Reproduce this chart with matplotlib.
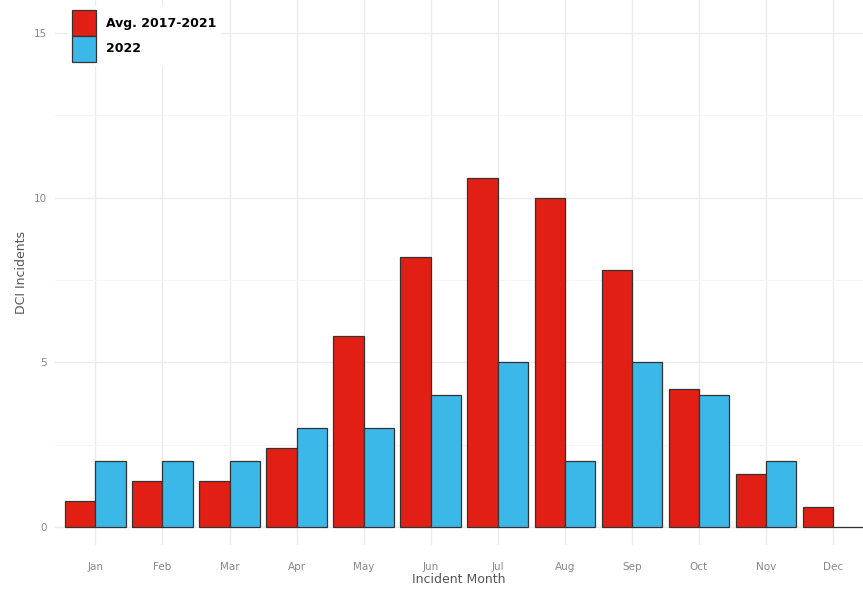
import numpy as np
import matplotlib
matplotlib.use("Agg")
import matplotlib.pyplot as plt

### Data
months = ["Jan", "Feb", "Mar", "Apr", "May", "Jun", "Jul", "Aug", "Sep", "Oct", "Nov", "Dec"]
avg_2017_2021 = [0.8, 1.4, 1.4, 2.4, 5.8, 8.2, 10.6, 10.0, 7.8, 4.2, 1.6, 0.6]
y2022 = [2, 2, 2, 3, 3, 4, 5, 2, 5, 4, 2, 0]

red = "#e21f14"
blue = "#3bb8e8"

fig = plt.figure(figsize=(8.63, 5.94), dpi=100)
ax = fig.add_axes([0.064, 0.0825, 0.936, 0.9175])

x = np.arange(len(months))
w = 0.45
ax.bar(x - w / 2, avg_2017_2021, width=w, color=red, edgecolor="#333333", linewidth=0.9,
       label="Avg. 2017-2021", zorder=3)
ax.bar(x + w / 2, y2022, width=w, color=blue, edgecolor="#333333", linewidth=0.9,
       label="2022", zorder=3)

ax.set_xlim(-0.6, 11.45)
ax.set_ylim(-0.55, 16.0)
ax.set_xticks(x)
ax.set_xticklabels(months)
ax.set_yticks([0, 5, 10, 15])
ax.set_yticks([2.5, 7.5, 12.5], minor=True)

ax.grid(True, which="major", color="#ebebeb", linewidth=1.0, zorder=0)
ax.grid(True, which="minor", axis="y", color="#f4f4f4", linewidth=0.6, zorder=0)
for s in ax.spines.values():
    s.set_visible(False)
ax.tick_params(which="both", length=0, labelsize=7.5, colors="#888888")
ax.tick_params(axis="x", pad=12)
ax.tick_params(axis="y", pad=6)

ax.set_xlabel("Incident Month", fontsize=9, color="#555555", labelpad=1)
ax.set_ylabel("DCI Incidents", fontsize=9, color="#555555", labelpad=4)

leg = fig.legend(loc="upper left", bbox_to_anchor=(0.072, 1.0), frameon=True,
                 fancybox=False, edgecolor="white", framealpha=1.0,
                 handlelength=1.9, handleheight=2.8, labelspacing=0.0,
                 borderpad=0.3, handletextpad=0.8,
                 prop={"weight": "bold", "size": 9})
for t in leg.get_texts():
    t.set_color("black")

fig.savefig("out.png", dpi=100)
